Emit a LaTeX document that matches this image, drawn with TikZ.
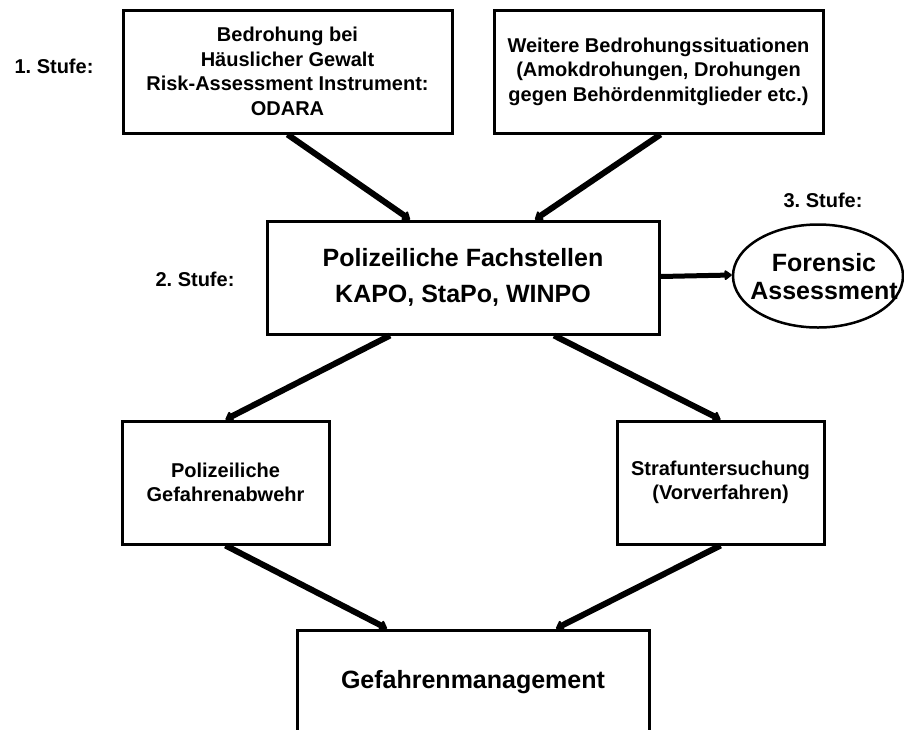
\documentclass[tikz,border=0pt]{standalone}
\usepackage{fontspec}
\setmainfont{Liberation Sans}
\usetikzlibrary{arrows.meta,shapes.geometric,calc}
\frenchspacing
\tikzset{
  boxnode/.style={draw, line width=3pt, rectangle, inner sep=0pt, align=center, font=\bfseries\fontsize{20}{24.5}\selectfont},
  bigtext/.style={font=\bfseries\fontsize{25}{36}\selectfont},
  stufe/.style={font=\bfseries\fontsize{20}{24}\selectfont, inner sep=0pt},
  thickarrow/.style={line width=6pt, -{Triangle[length=8pt,width=12pt,round]}},
}
\begin{document}
\begin{tikzpicture}[x=1pt,y=-1pt]
\useasboundingbox (0,0) rectangle (904,729);
\clip (0,0) rectangle (904,729);
\fill[white] (0,0) rectangle (904,729);

\node[stufe] (s1) at (54,66) {1. Stufe:};
\node[stufe] (s2) at (195,279) {2. Stufe:};
\node[stufe] (s3) at (823,200) {3. Stufe:};

\node[boxnode, minimum width=329pt, minimum height=123pt] (b1) at (287.5,71.5)
  {Bedrohung bei\\Häuslicher Gewalt\\Risk-Assessment Instrument:\\ODARA};
\node[boxnode, minimum width=329pt, minimum height=123pt] (b2) at (658.5,71.5)
  {Weitere Bedrohungssituationen\\(Amokdrohungen, Drohungen\\gegen Behördenmitglieder etc.)};

\node[boxnode, bigtext, minimum width=392pt, minimum height=113pt] (cb) at (463,277.5)
  {Polizeiliche Fachstellen\\KAPO, StaPo, WINPO};

\node[draw, line width=2.5pt, ellipse, inner sep=0pt, minimum width=170pt, minimum height=103pt] (fa) at (818,276) {};
\node[align=center, inner sep=0pt, font=\bfseries\fontsize{25}{28}\selectfont] (fat) at ([xshift=6pt,yshift=-1pt]fa.center)
  {Forensic\\Assessment};

\node[boxnode, minimum width=207pt, minimum height=123pt] (lb) at (225.5,482.5)
  {Polizeiliche\\Gefahrenabwehr};
\node[boxnode, minimum width=207pt, minimum height=123pt] (rb) at (720.5,482.5)
  {Strafuntersuchung\\(Vorverfahren)};

\node[boxnode, bigtext, minimum width=352pt, minimum height=104pt] (gm) at (473,682)
  {Gefahrenmanagement};

\draw[thickarrow] (b1.south) -- ([xshift=-53pt]cb.north);
\draw[thickarrow] ([xshift=2pt]b2.south) -- ([xshift=72pt]cb.north);
\draw[line width=5pt, -{Triangle[length=8pt,width=11pt,round]}] ([yshift=1pt]cb.east) -- ([yshift=1pt]fa.west);
\draw[thickarrow] ([xshift=-73pt]cb.south) -- (lb.north);
\draw[thickarrow] ([xshift=91pt]cb.south) -- (rb.north);
\draw[thickarrow] (lb.south) -- ([xshift=-86pt]gm.north);
\draw[thickarrow] (rb.south) -- ([xshift=83pt]gm.north);
\end{tikzpicture}
\end{document}
